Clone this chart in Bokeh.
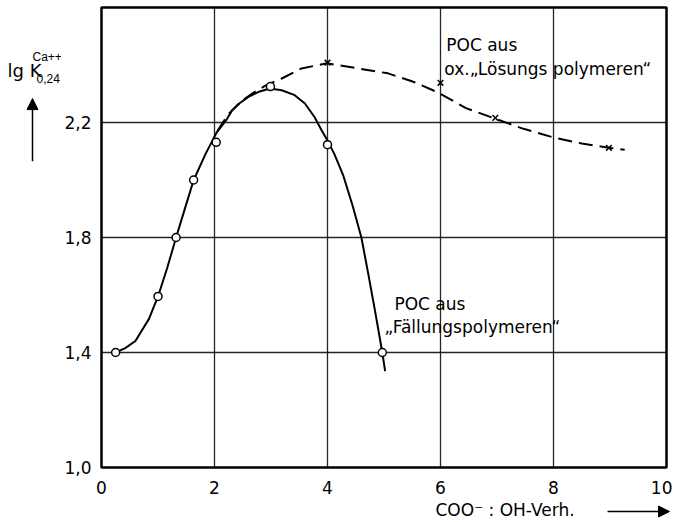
from bokeh.plotting import figure
from bokeh.layouts import row, column
from bokeh.models import Label, Arrow, NormalHead, FixedTicker, Range1d, Spacer
from bokeh.embed import file_html
from bokeh.resources import INLINE

# ---- data ----
x_ticks = [0, 2, 4, 6, 8, 10]
x_tick_labels = ["0", "2", "4", "6", "8", "10"]
y_ticks = [1.0, 1.4, 1.8, 2.2]
y_tick_labels = ["1,0", "1,4", "1,8", "2,2"]

# measured points: POC aus Fällungspolymeren (circles)
faell_pts_x = [0.25, 1.00, 1.32, 1.63, 2.03, 2.99, 4.00, 4.97]
faell_pts_y = [1.40, 1.595, 1.80, 2.00, 2.131, 2.325, 2.123, 1.40]
# drawn curve through them
faell_curve_x = [0.25, 0.42, 0.60, 0.84, 1.00, 1.16, 1.32, 1.48, 1.63, 1.84, 2.04, 2.22, 2.31,
                 2.45, 2.60, 2.80, 2.98, 3.19, 3.42, 3.60, 3.77, 3.89, 4.00, 4.12, 4.28, 4.44,
                 4.60, 4.72, 4.85, 4.97, 5.02]
faell_curve_y = [1.400, 1.415, 1.440, 1.517, 1.595, 1.692, 1.800, 1.903, 1.999, 2.090, 2.166,
                 2.212, 2.242, 2.268, 2.289, 2.308, 2.318, 2.312, 2.295, 2.266, 2.219, 2.175,
                 2.137, 2.091, 2.015, 1.914, 1.800, 1.675, 1.535, 1.400, 1.335]

# measured points: POC aus ox. Lösungspolymeren (crosses)
loes_pts_x = [4.0, 6.0, 6.97, 8.98]
loes_pts_y = [2.408, 2.338, 2.216, 2.112]
# dashed curve
loes_curve_x = [2.05, 2.25, 2.45, 2.66, 2.90, 3.19, 3.54, 3.99, 4.54, 5.07, 5.53, 5.97, 6.45,
                6.97, 7.47, 8.00, 8.50, 8.98, 9.26]
loes_curve_y = [2.17, 2.23, 2.27, 2.30, 2.328, 2.353, 2.388, 2.406, 2.388, 2.371, 2.341, 2.303,
                2.250, 2.213, 2.178, 2.148, 2.127, 2.112, 2.105]

FONT = "DejaVu Sans"

# ---- layout geometry (page pixels) ----
TOTAL_W = 672
LEFT_W = 61                 # strip left of the y tick labels (axis title + arrow)
MAIN_H = 500                # main figure height
BOT_H = 22                  # strip below (x axis title + arrow)
BOT_X = 432                 # where the lower strip begins
FL, FR, FT, FB = 99, 666, 7, 467   # plot frame edges
X0, X1 = 0, 10
Y0, Y1 = 1.0, 2.6
TXT_SHIFT = 7               # labels render this much below the given baseline

MAIN_W = TOTAL_W - LEFT_W


def strip(w, h):
    f = figure(width=w, height=h, x_range=Range1d(0, w), y_range=Range1d(h, 0),
               min_border=0, x_axis_type=None, y_axis_type=None, toolbar_location=None,
               output_backend="svg", background_fill_color="white",
               border_fill_color="white")
    f.outline_line_color = None
    f.grid.visible = False
    return f


p = figure(width=MAIN_W, height=MAIN_H, output_backend="svg", toolbar_location=None,
           x_range=Range1d(X0, X1), y_range=Range1d(Y0, Y1),
           min_border_left=FL - LEFT_W, min_border_right=TOTAL_W - FR, min_border_top=FT,
           min_border_bottom=MAIN_H - FB,
           background_fill_color="white", border_fill_color="white")

fw = FR - FL
fh = FB - FT


def dx(px):
    return X0 + (px - FL) * (X1 - X0) / fw


def dy(py):
    return Y0 + (FB - py) * (Y1 - Y0) / fh


p.outline_line_color = "black"
p.outline_line_width = 2.5
p.outline_line_alpha = 1.0

for ax in (p.xaxis, p.yaxis):
    ax.axis_line_color = None
    ax.major_tick_line_color = None
    ax.minor_tick_line_color = None
    ax.major_tick_in = 0
    ax.major_tick_out = 0
    ax.major_label_text_font = FONT
    ax.major_label_text_font_size = "17px"
    ax.major_label_text_color = "black"

p.xaxis.ticker = FixedTicker(ticks=x_ticks)
p.xaxis.major_label_overrides = dict(zip(x_ticks, x_tick_labels))
p.xaxis.major_label_standoff = 13
p.yaxis.ticker = FixedTicker(ticks=y_ticks)
p.yaxis.major_label_overrides = dict(zip(y_ticks, y_tick_labels))
p.yaxis.major_label_standoff = 10

p.xgrid.ticker = FixedTicker(ticks=x_ticks[1:-1])
p.ygrid.ticker = FixedTicker(ticks=y_ticks[1:])
for g in (p.xgrid, p.ygrid):
    g.grid_line_color = "black"
    g.grid_line_width = 1.3
    g.grid_line_alpha = 0.85

p.line(faell_curve_x, faell_curve_y, line_color="black", line_width=2)
p.line(loes_curve_x, loes_curve_y, line_color="black", line_width=2, line_dash="14 7")
p.scatter(faell_pts_x, faell_pts_y, marker="circle", size=8, fill_color="white",
          line_color="black", line_width=1.5)
p.scatter(loes_pts_x, loes_pts_y, marker="x", size=8, line_color="black", line_width=1.5)


def lab(fig, text, x, y, size="17px", font=FONT):
    fig.add_layout(Label(x=x, y=y, text=text, text_font=font, text_font_size=size,
                         text_color="black", text_baseline="alphabetic", text_align="left"))


# annotations inside the plot frame (data units)
lab(p, "POC aus", dx(445), dy(51 - TXT_SHIFT))
lab(p, "ox.„Lösungs polymeren“", dx(443), dy(75 - TXT_SHIFT))
lab(p, "POC  aus", dx(393), dy(310 - TXT_SHIFT))
lab(p, "„Fällungspolymeren“", dx(383), dy(333 - TXT_SHIFT))

# left strip: y axis title and upward arrow (strip pixels)
left = strip(LEFT_W, MAIN_H)
lab(left, "lg K", 7, 76 - TXT_SHIFT, "18px")
lab(left, "Ca++", 32, 61 - TXT_SHIFT, "12px", "Liberation Sans")
lab(left, "0,24", 36, 84 - TXT_SHIFT, "12px", "Liberation Sans")
left.add_layout(Arrow(end=NormalHead(size=11, fill_color="black", line_color="black"),
                      x_start=32, y_start=167, x_end=32, y_end=99,
                      line_color="black", line_width=1.5))

# bottom strip: x axis title and arrow to the right
bottom = strip(TOTAL_W - BOT_X, BOT_H)
lab(bottom, "COO⁻ : OH-Verh.", 435 - BOT_X, 516 - TXT_SHIFT - MAIN_H)
bottom.add_layout(Arrow(end=NormalHead(size=11, fill_color="black", line_color="black"),
                        x_start=607 - BOT_X, y_start=511 - MAIN_H,
                        x_end=669 - BOT_X, y_end=511 - MAIN_H,
                        line_color="black", line_width=1.5))

layout = column(row(left, p, spacing=0),
                row(Spacer(width=BOT_X, height=BOT_H), bottom, spacing=0),
                spacing=0)

open("out.html", "w").write(file_html(layout, INLINE))
